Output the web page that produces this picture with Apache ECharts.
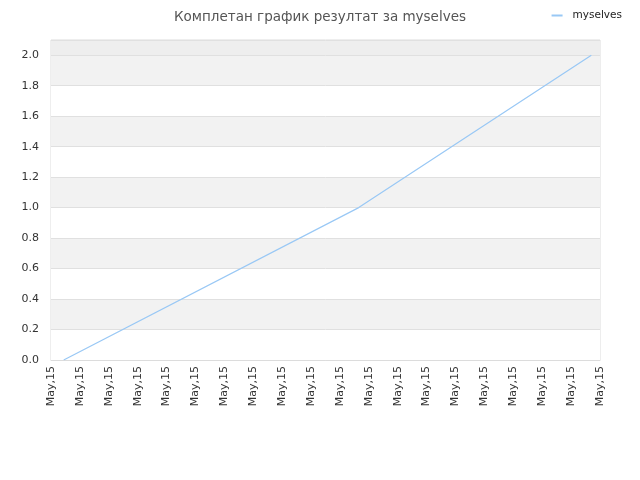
<!DOCTYPE html>
<html><head><meta charset="utf-8">
<script src="https://cdn.jsdelivr.net/npm/echarts@6/dist/echarts.min.js"></script>
<style>html,body{margin:0;padding:0;background:#fff}#c{width:640px;height:480px}</style>
</head><body><div id="c"></div>
<script>
const titleText = 'Комплетан график резултат за myselves';
const seriesName = 'myselves';
const tickLabels = ['May,15','May,15','May,15','May,15','May,15','May,15','May,15','May,15','May,15','May,15','May,15','May,15','May,15','May,15','May,15','May,15','May,15','May,15','May,15','May,15'];
const xPositions = [0.44, 10.65, 18.7];
const yValues = [0, 1.0, 2.0];

const chart = echarts.init(document.getElementById('c'));
chart.setOption({
  animation: false,
  title: { text: titleText, left: 'center', top: 5,
    textStyle: { fontSize: 13.5, fontWeight: 'normal', color: '#555', fontFamily: 'DejaVu Sans' } },
  legend: { right: 13, top: 5, itemWidth: 11, itemHeight: 2, icon: 'rect',
    data: [seriesName], textStyle: { fontSize: 10.5, color: '#222', fontFamily: 'DejaVu Sans', padding: [0, 0, 0, 5] } },
  grid: { left: 51, right: 40, top: 40, bottom: 120, show: true, borderColor: '#dcdcdc', borderWidth: 1, backgroundColor: 'transparent' },
  xAxis: {
    type: 'value', min: 0, max: tickLabels.length - 1, interval: 1,
    axisLine: { show: true, lineStyle: { color: '#dcdcdc' } },
    axisTick: { show: false },
    splitLine: { show: false },
    axisLabel: { rotate: 90, fontSize: 11, color: '#333', fontFamily: 'DejaVu Sans', margin: 6,
      formatter: v => tickLabels[Math.round(v)] || '' }
  },
  yAxis: {
    type: 'value', min: 0, max: 2.1, interval: 0.2,
    axisLine: { show: false }, axisTick: { show: false },
    axisLabel: { fontSize: 11, color: '#333', fontFamily: 'DejaVu Sans', margin: 12,
      formatter: v => (Math.abs(v - 2.1) < 1e-9 ? '' : v.toFixed(1)) },
    splitLine: { show: true, lineStyle: { color: '#e0e0e0' } },
    splitArea: { show: true, areaStyle: { color: ['#ffffff','#f2f2f2','#ffffff','#f2f2f2','#ffffff','#f2f2f2','#ffffff','#f2f2f2','#ffffff','#f2f2f2','#eeeeee'] } }
  },
  series: [{
    name: seriesName, type: 'line', showSymbol: false, symbol: 'none',
    data: xPositions.map((x, i) => [x, yValues[i]]),
    lineStyle: { color: '#99c8f5', width: 1.2 }, itemStyle: { color: '#99c8f5' }
  }]
});
</script></body></html>
